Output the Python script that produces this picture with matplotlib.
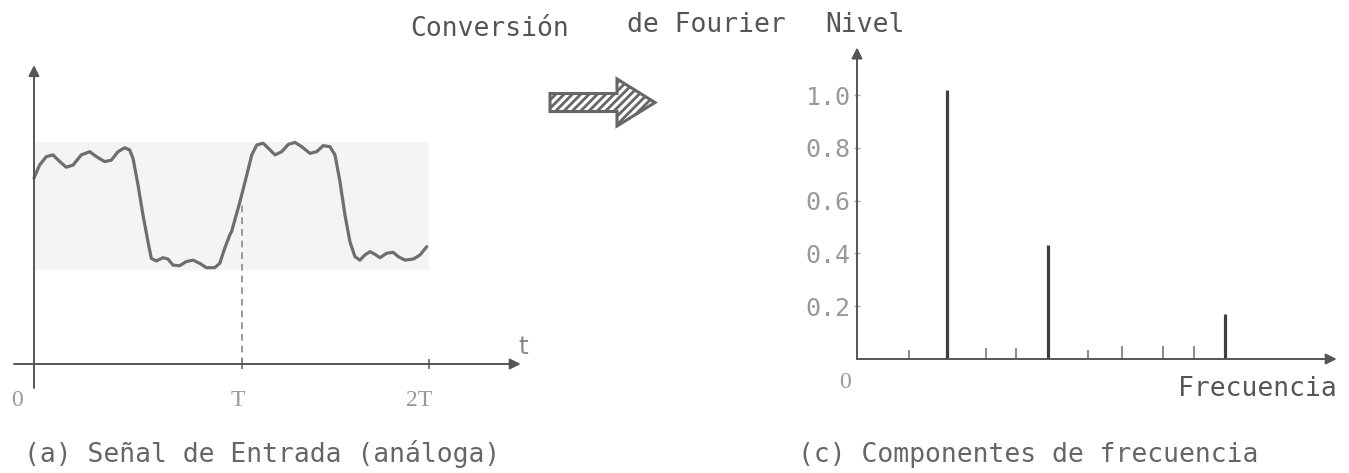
import matplotlib
matplotlib.use('Agg')
import matplotlib.pyplot as plt
from matplotlib.patches import FancyArrow, Rectangle

plt.rcParams['font.family'] = ['DejaVu Sans Mono', 'DejaVu Sans']
plt.rcParams['hatch.linewidth'] = 2.0

# (a) input signal, time in units of T
sig_t = [0.000, 0.027, 0.059, 0.091, 0.124, 0.155, 0.188, 0.227, 0.268, 0.300,
         0.340, 0.372, 0.404, 0.436, 0.460, 0.476, 0.500, 0.524, 0.548, 0.564,
         0.588, 0.620, 0.644, 0.668, 0.700, 0.732, 0.764, 0.797, 0.828, 0.869,
         0.893, 0.917, 0.941, 0.950, 0.990, 1.023, 1.047, 1.071, 1.102, 1.135,
         1.159, 1.191, 1.223, 1.255, 1.287, 1.327, 1.359, 1.391, 1.423, 1.447,
         1.471, 1.495, 1.519, 1.543, 1.567, 1.591, 1.615, 1.639, 1.663, 1.696,
         1.727, 1.751, 1.784, 1.824, 1.856, 1.888]
sig_a = [0.861, 0.921, 0.960, 0.968, 0.937, 0.911, 0.921, 0.968, 0.983, 0.960,
         0.937, 0.944, 0.983, 1.001, 0.991, 0.952, 0.829, 0.690, 0.566, 0.489,
         0.477, 0.492, 0.486, 0.458, 0.455, 0.474, 0.481, 0.466, 0.446, 0.446,
         0.466, 0.536, 0.597, 0.613, 0.751, 0.875, 0.968, 1.014, 1.022, 0.991,
         0.968, 0.983, 1.017, 1.026, 1.006, 0.975, 0.983, 1.011, 1.006, 0.968,
         0.844, 0.690, 0.566, 0.497, 0.481, 0.505, 0.520, 0.508, 0.492, 0.513,
         0.517, 0.497, 0.481, 0.486, 0.505, 0.543]
t_ticks = [1.0, 1.9]
t_labels = ['0', 'T', '2T']
t_label_pos = [-0.082, 0.98, 1.85]

# (c) frequency components
freqs = [0.58, 1.00, 1.43, 1.77, 2.12, 2.57, 2.94, 3.40, 3.74, 4.09]
amps = [0.035, 1.02, 0.04, 0.04, 0.43, 0.035, 0.05, 0.05, 0.05, 0.17]
main_lines = [1, 4, 9]
level_ticks = [0.2, 0.4, 0.6, 0.8, 1.0]
level_labels = ['0.2', '0.4', '0.6', '0.8', '1.0']

W, H = 1349, 473
fig = plt.figure(figsize=(W / 100, H / 100), dpi=100)


def axes_for(ox, oy, sx, sy, xlim, ylim):
    # ox, oy: pixel of the data origin, sx, sy: pixels per data unit
    x0 = ox + xlim[0] * sx
    x1 = ox + xlim[1] * sx
    ytop = oy - ylim[1] * sy
    ybot = oy - ylim[0] * sy
    ax = fig.add_axes([x0 / W, 1 - ybot / H, (x1 - x0) / W, (ybot - ytop) / H])
    ax.set_xlim(*xlim)
    ax.set_ylim(*ylim)
    ax.patch.set_alpha(0)
    for s in ax.spines.values():
        s.set_visible(False)
    return ax


arrow_kw = dict(arrowstyle='-|>', color='#555555', lw=1.4, mutation_scale=16,
                shrinkA=0, shrinkB=0)

# ---- left panel: input signal
ax1 = axes_for(34, 364, 208, 216, (-0.10, 2.36), (-0.12, 1.39))
ax1.add_patch(Rectangle((0, 0.435), 1.9, 0.593, color='#f4f4f4', lw=0, zorder=0))
ax1.plot(sig_t, sig_a, color='#6e6e6e', lw=2.3, solid_joinstyle='round',
         solid_capstyle='round', zorder=3)
ax1.plot([t_ticks[0], t_ticks[0]], [0, 0.74], color='#888888', lw=1.2,
         ls=(0, (4, 3)), zorder=2)
ax1.annotate('', xy=(2.34, 0), xytext=(-0.096, 0), arrowprops=arrow_kw)
ax1.annotate('', xy=(0, 1.384), xytext=(0, -0.111), arrowprops=arrow_kw)
ax1.spines['bottom'].set_position(('data', 0))
ax1.set_xticks(t_ticks)
ax1.set_yticks([])
ax1.tick_params(axis='x', direction='inout', length=7, width=1.2, color='#666666',
                labelbottom=False)
for lab, x in zip(t_labels, t_label_pos):
    ax1.text(x, -0.167, lab, ha='center', va='center', fontsize=17,
             family='Liberation Serif', color='#999999', clip_on=False)
ax1.text(2.35, 0.08, 't', ha='center', va='center', fontsize=18,
         family='DejaVu Sans', color='#888888', clip_on=False)

# ---- right panel: frequency components
ax2 = axes_for(857, 359, 90, 264, (-0.02, 5.40), (-0.02, 1.21))
widths = [2.3 if i in main_lines else 1.2 for i in range(len(freqs))]
cols = ['#3f3f3f' if i in main_lines else '#777777' for i in range(len(freqs))]
ax2.vlines(freqs, 0, amps, colors=cols, linewidths=widths, zorder=3)
ax2.annotate('', xy=(5.33, 0), xytext=(0, 0), arrowprops=arrow_kw)
ax2.annotate('', xy=(0, 1.18), xytext=(0, 0), arrowprops=arrow_kw)
ax2.spines['left'].set_position(('data', 0))
ax2.set_xticks([])
ax2.set_yticks(level_ticks)
ax2.set_yticklabels(level_labels)
ax2.tick_params(axis='y', direction='inout', length=5, width=1, color='#aaaaaa',
                labelsize=18, labelcolor='#999999', pad=2)
ax2.text(-0.133, -0.09, '0', ha='center', va='center', fontsize=17,
         family='Liberation Serif', color='#999999', clip_on=False)
ax2.text(5.33, -0.115, 'Frecuencia', ha='right', va='center', fontsize=19,
         color='#555555', clip_on=False)

# ---- transform arrow between the panels
ax3 = fig.add_axes([545 / W, 1 - 130 / H, 115 / W, 55 / H])
ax3.set_xlim(0, 115)
ax3.set_ylim(0, 55)
ax3.axis('off')
ax3.add_patch(FancyArrow(5, 27.5, 105, 0, width=18, head_width=47, head_length=38,
                         length_includes_head=True, facecolor='white',
                         edgecolor='#666666', lw=2.2, hatch='////'))

# ---- titles and captions
fig.text(410 / W, 1 - 36 / H, 'Conversión', fontsize=19, color='#555555',
         ha='left', va='baseline')
fig.text(627 / W, 1 - 32 / H, 'de Fourier', fontsize=19, color='#555555',
         ha='left', va='baseline')
fig.text(825 / W, 1 - 32 / H, 'Nivel', fontsize=19, color='#555555',
         ha='left', va='baseline')
fig.text(24 / W, 1 - 454 / H, '(a) Señal de Entrada (análoga)', fontsize=19,
         color='#666666', ha='left', va='center')
fig.text(798 / W, 1 - 455 / H, '(c) Componentes de frecuencia', fontsize=19,
         color='#666666', ha='left', va='center')

fig.savefig('out.png', dpi=100)
